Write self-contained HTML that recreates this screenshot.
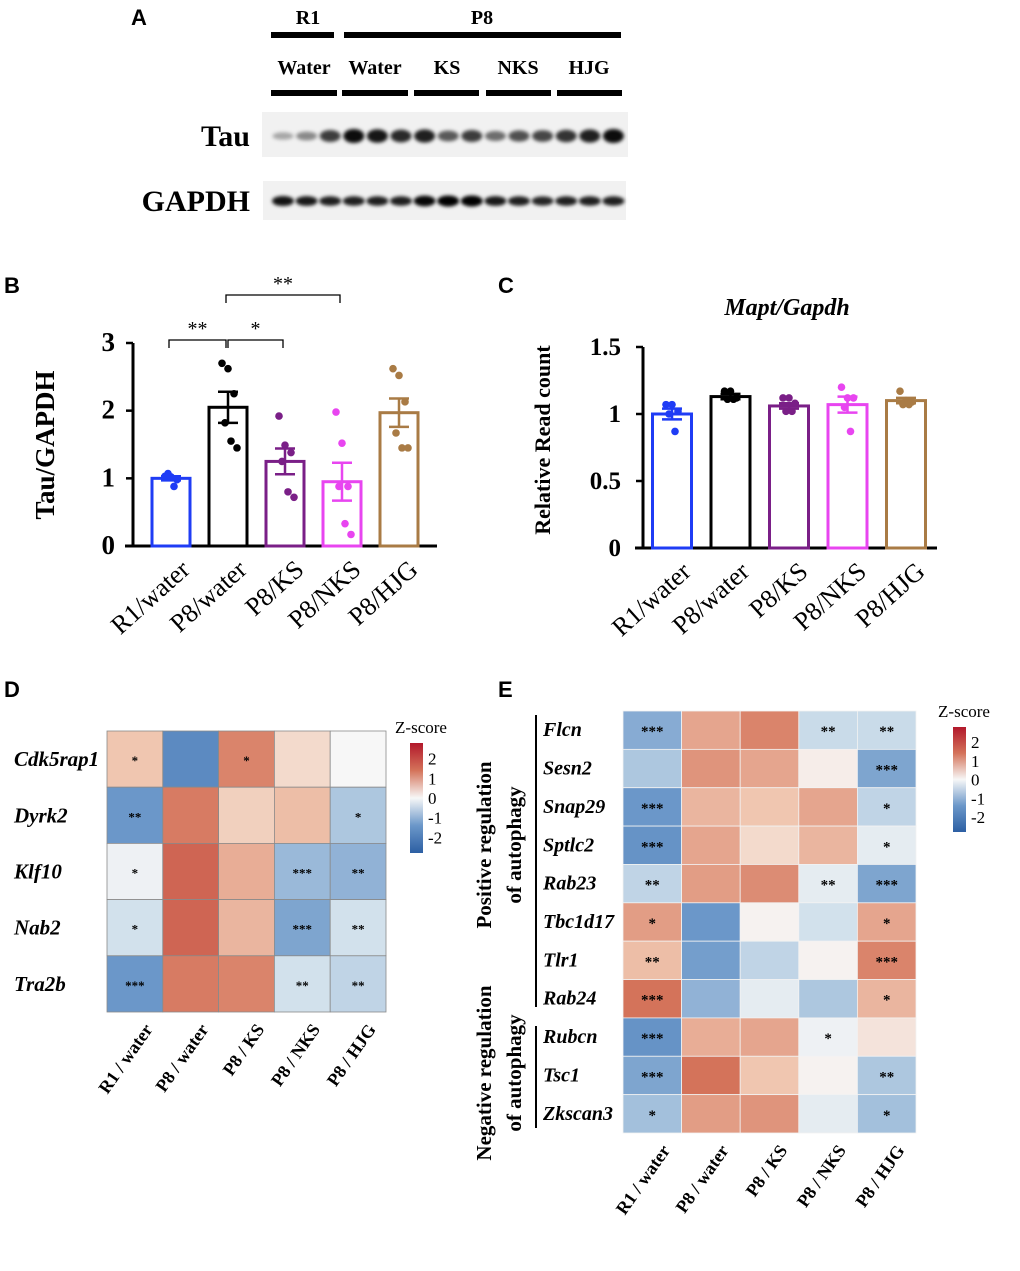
<!DOCTYPE html>
<html><head><meta charset="utf-8"><style>
body{margin:0;background:#fff;}
svg{display:block;font-family:"Liberation Serif",serif;}
.pl{font-family:"Liberation Sans",sans-serif;font-weight:bold;font-size:22px;}
</style></head><body>
<svg id="fig" width="1020" height="1271" viewBox="0 0 1020 1271" xmlns="http://www.w3.org/2000/svg">
<defs>
<filter id="blur" x="-20%" y="-50%" width="140%" height="200%"><feGaussianBlur stdDeviation="1.8"/></filter>
<linearGradient id="zgrad" x1="0" y1="0" x2="0" y2="1">
<stop offset="0" stop-color="#b2182b"/><stop offset="0.25" stop-color="#d4735a"/><stop offset="0.5" stop-color="#f7f7f7"/><stop offset="0.75" stop-color="#6b97c9"/><stop offset="1" stop-color="#2c5fa3"/>
</linearGradient>
</defs>
<g id="panelA">
<text class="pl" x="131" y="25">A</text>
<text x="308" y="24" text-anchor="middle" font-weight="bold" font-size="20">R1</text>
<text x="482" y="24" text-anchor="middle" font-weight="bold" font-size="20">P8</text>
<rect x="271" y="32" width="63" height="6" fill="#000"/>
<rect x="344" y="32" width="277" height="6" fill="#000"/>
<g font-weight="bold" font-size="20" text-anchor="middle">
<text x="304" y="74">Water</text>
<text x="375" y="74">Water</text>
<text x="447" y="74">KS</text>
<text x="518" y="74">NKS</text>
<text x="589" y="74">HJG</text>
</g>
<rect x="271" y="90" width="66" height="6" fill="#000"/>
<rect x="342" y="90" width="66" height="6" fill="#000"/>
<rect x="414" y="90" width="65" height="6" fill="#000"/>
<rect x="486" y="90" width="65" height="6" fill="#000"/>
<rect x="557" y="90" width="65" height="6" fill="#000"/>
<text x="250" y="146" text-anchor="end" font-weight="bold" font-size="30">Tau</text>
<text x="250" y="211" text-anchor="end" font-weight="bold" font-size="30">GAPDH</text>
<rect x="262" y="112" width="366" height="45" fill="#f1f1f1"/>
<rect x="263" y="181" width="363" height="39" fill="#f1f1f1"/>
<g id="bands"></g>
</g>
<g id="panelB">
<text class="pl" x="4" y="293">B</text>
</g>
<g id="panelC">
<text class="pl" x="498" y="293">C</text>
</g>
<g id="panelD">
<text class="pl" x="4" y="697">D</text>
</g>
<g id="panelE">
<text class="pl" x="498" y="697">E</text>
</g>
</svg>
<script>
const NS="http://www.w3.org/2000/svg";
function mk(parent,tag,attrs,txt){const e=document.createElementNS(NS,tag);for(const k in attrs)e.setAttribute(k,attrs[k]);if(txt!==undefined)e.textContent=txt;parent.appendChild(e);return e;}

// ---- Blot data ----
const tauIntensity=[0.2,0.35,0.75,1,0.95,0.85,0.9,0.6,0.75,0.5,0.65,0.7,0.8,0.9,1];
const gapdhIntensity=[0.85,0.8,0.75,0.75,0.75,0.75,0.95,1,1,0.8,0.75,0.7,0.75,0.75,0.75];
const bands=document.getElementById('bands');
tauIntensity.forEach((v,i)=>{const cx=283+i*23.6;
 const e=mk(bands,'ellipse',{cx:cx,cy:136,rx:10.5,ry:3+4*v,fill:'#000','fill-opacity':0.15+0.8*v,filter:'url(#blur)'});
 
 });
gapdhIntensity.forEach((v,i)=>{const cx=283+i*23.6;
 const e=mk(bands,'ellipse',{cx:cx,cy:201,rx:11,ry:2.5+3*v,fill:'#000','fill-opacity':0.5+0.5*v,filter:'url(#blur)'});
 
 });

// ---- Bar chart data ----
const groups=["R1/water","P8/water","P8/KS","P8/NKS","P8/HJG"];
const groupColors=["#1f3cf5","#000000","#7a1f87","#e845f0","#a97b45"];
const tauMeans=[1.0,2.05,1.25,0.95,1.97];
const tauSem=[0.03,0.23,0.19,0.28,0.21];
const tauPoints=[[1.03,1.02,0.98,1.07,0.88],[2.7,2.62,2.25,1.82,1.55,1.45],[1.92,1.49,1.38,1.25,0.8,0.72],[1.98,1.52,0.88,0.88,0.33,0.17],[2.62,2.52,2.13,1.67,1.45,1.45]];
const tauTicks=["0","1","2","3"];
const maptMeans=[1.0,1.13,1.06,1.07,1.1];
const maptSem=[0.04,0.02,0.02,0.06,0.02];
const maptPoints=[[1.07,1.07,1.02,1.0,0.87],[1.17,1.17,1.12,1.11,1.11],[1.12,1.12,1.08,1.02,1.02],[1.2,1.12,1.12,1.05,0.87],[1.17,1.1,1.09,1.07,1.07]];
const maptTicks=["0","0.5","1","1.5"];

function barChart(g,o){
 const y=v=>o.y0-(v/o.ymax)*(o.y0-o.ytop);
 const x=i=>o.x0+i*o.step;
 let e=mk(g,'line',{x1:o.ax,y1:o.ytop,x2:o.ax,y2:o.y0+1.5,stroke:'#000','stroke-width':3});
 
 e=mk(g,'line',{x1:o.ax-8,y1:o.y0,x2:o.xend,y2:o.y0,stroke:'#000','stroke-width':3});
 
 o.ticks.forEach(t=>{const v=parseFloat(t);const ty=y(v);
  const l=mk(g,'line',{x1:o.ax-7,y1:ty,x2:o.ax,y2:ty,stroke:'#000','stroke-width':2.5});
  
  const tx=mk(g,'text',{x:o.ax-o.tickGap,y:ty+8,'text-anchor':'end','font-weight':'bold','font-size':o.tickFs},t);
  });
 o.means.forEach((m,i)=>{const cx=x(i),c=groupColors[i],w=o.bw;
  const r=mk(g,'rect',{x:cx-w/2,y:y(m),width:w,height:o.y0-y(m),fill:'none',stroke:c,'stroke-width':3});
  
  o.points[i].forEach((p,j)=>{const off=((j%3)-1)*6+(j>=3?3:0);
   const d=mk(g,'circle',{cx:cx+off,cy:y(p),r:3.8,fill:c});
   });
  const s=o.sem[i];
  const eb=mk(g,'path',{d:`M${cx},${y(m+s)}V${y(m-s)}M${cx-10},${y(m+s)}H${cx+10}M${cx-10},${y(m-s)}H${cx+10}`,stroke:c,'stroke-width':2.5,fill:'none'});
  
  const lb=mk(g,'text',{x:cx+8,y:o.y0+12,'text-anchor':'end','font-size':o.labFs,transform:`rotate(-42 ${cx+8} ${o.y0+12})`,'dominant-baseline':'hanging'},groups[i]);
  });
 const yt=mk(g,'text',{x:o.ytx,y:o.yty,'text-anchor':'middle','font-weight':'bold','font-size':o.ytFs,transform:`rotate(-90 ${o.ytx} ${o.yty})`},o.ytitle);
 
 return {x,y};
}
const gB=document.getElementById('panelB');
const B=barChart(gB,{ax:133,ytop:343,y0:546,ymax:3,xend:437,x0:171,step:57,bw:38,ticks:tauTicks,means:tauMeans,sem:tauSem,points:tauPoints,tickGap:18,tickFs:27,labFs:26,ytx:54,yty:445,ytFs:27,ytitle:"Tau/GAPDH"});
[[0,1,340,"**"],[1,2,340,"*"],[1,3,295,"**"]].forEach(([a,b,yy,s],k)=>{
 const x1=B.x(a)-2+(k==1?2:0),x2=B.x(b)-2;
 const p=mk(gB,'path',{d:`M${x1},${yy+8}V${yy}H${x2}V${yy+8}`,stroke:'#000','stroke-width':1.3,fill:'none'});
 
 const t=mk(gB,'text',{x:(x1+x2)/2,y:yy-5,'text-anchor':'middle','font-size':20},s);
 });

const gC=document.getElementById('panelC');
barChart(gC,{ax:643,ytop:347,y0:548,ymax:1.5,xend:937,x0:672,step:58.5,bw:39,ticks:maptTicks,means:maptMeans,sem:maptSem,points:maptPoints,tickGap:22,tickFs:25,labFs:26,ytx:550,yty:440,ytFs:22,ytitle:"Relative Read count"});
const ct=mk(gC,'text',{x:787,y:315,'text-anchor':'middle','font-weight':'bold','font-style':'italic','font-size':24},"Mapt/Gapdh");


// ---- Heatmap data ----
const hmCols=["R1 / water","P8 / water","P8 / KS","P8 / NKS","P8 / HJG"];
const dGenes=["Cdk5rap1","Dyrk2","Klf10","Nab2","Tra2b"];
const dZ=[[0.5,-1.8,1.3,0.3,0.0],[-1.5,1.4,0.4,0.6,-0.8],[-0.1,1.7,0.8,-1.0,-1.1],[-0.4,1.7,0.7,-1.3,-0.4],[-1.5,1.4,1.3,-0.4,-0.6]];
const dSig=[["*","","*","",""],["**","","","","*"],["*","","","***","**"],["*","","","***","**"],["***","","","**","**"]];
const eGenes=["Flcn","Sesn2","Snap29","Sptlc2","Rab23","Tbc1d17","Tlr1","Rab24","Rubcn","Tsc1","Zkscan3"];
const eZ=[[-1.2,0.9,1.3,-0.5,-0.5],[-0.8,1.1,0.9,0.1,-1.3],[-1.5,0.7,0.5,0.9,-0.6],[-1.6,0.9,0.3,0.7,-0.2],[-0.6,1.0,1.2,-0.2,-1.3],[1.0,-1.5,0.05,-0.4,0.9],[0.6,-1.4,-0.6,0.05,1.3],[1.5,-1.1,-0.2,-0.8,0.7],[-1.6,0.8,0.9,-0.1,0.2],[-1.3,1.5,0.5,0.05,-0.8],[-0.9,1.0,1.1,-0.2,-0.9]];
const eSig=[["***","","","**","**"],["","","","","***"],["***","","","","*"],["***","","","","*"],["**","","","**","***"],["*","","","","*"],["**","","","","***"],["***","","","","*"],["***","","","*",""],["***","","","","**"],["*","","","","*"]];
const zTicks=["2","1","0","-1","-2"];

const stops=[[-2.8,[42,95,165]],[-1.5,[107,151,201]],[-0.5,[201,219,233]],[0,[247,247,247]],[0.5,[240,198,176]],[1.5,[212,115,90]],[2.8,[178,24,43]]];
function zc(z){z=Math.max(-2.8,Math.min(2.8,z));for(let i=0;i<stops.length-1;i++){const[a,ca]=stops[i],[b,cb]=stops[i+1];if(z<=b){const t=(z-a)/(b-a);return 'rgb('+ca.map((v,k)=>Math.round(v+(cb[k]-v)*t)).join(',')+')';}}}

function heatmap(g,o){
 const cw=(o.x1-o.x0)/hmCols.length,rh=(o.y1-o.y0)/o.genes.length;
 o.z.forEach((row,r)=>row.forEach((v,c)=>{
  const rc=mk(g,'rect',{x:o.x0+c*cw,y:o.y0+r*rh,width:cw,height:rh,fill:zc(v),stroke:o.grid,'stroke-width':0.8});
  
  if(o.sig[r][c]){const s=mk(g,'text',{x:o.x0+(c+0.5)*cw,y:o.y0+(r+0.5)*rh+6,'text-anchor':'middle','font-size':o.sfs,'font-weight':'bold'},o.sig[r][c]);
   }
 }));
 o.genes.forEach((gn,r)=>{const t=mk(g,'text',{x:o.lx,y:o.y0+(r+0.5)*rh+o.ldy,'font-style':'italic','font-weight':'bold','font-size':o.lfs},gn);
  });
 hmCols.forEach((cn,c)=>{const cx=o.x0+(c+0.5)*cw+8,cy=o.y1+10;
  const t=mk(g,'text',{x:cx,y:cy,'text-anchor':'end','font-weight':'bold','font-size':o.cfs,transform:`rotate(-55 ${cx} ${cy})`,'dominant-baseline':'hanging'},cn);
  });
 const zt=mk(g,'text',{x:o.lgx+11,y:o.lgy-10,'text-anchor':'middle','font-size':17},"Z-score");
 
 const cb=mk(g,'rect',{x:o.lgx,y:o.lgy,width:13,height:o.lgh,fill:'url(#zgrad)'});
 
 zTicks.forEach(t=>{const v=parseFloat(t);const ty=o.lgy+o.lgh/2-v*(o.lgh/5.6);
  const tl=mk(g,'text',{x:o.lgx+18,y:ty+6,'font-size':17},t);
  });
}
heatmap(document.getElementById('panelD'),{x0:107,x1:386,y0:731,y1:1012,genes:dGenes,z:dZ,sig:dSig,grid:'#8a8a8a',lx:14,ldy:7,lfs:21,cfs:18,sfs:13,lgx:410,lgy:743,lgh:110});
const gE=document.getElementById('panelE');
heatmap(gE,{x0:623,x1:916,y0:711,y1:1133,genes:eGenes,z:eZ,sig:eSig,grid:'#f2f2f2',lx:543,ldy:6,lfs:20,cfs:18,sfs:15,lgx:953,lgy:727,lgh:105});
[[715,1007,"pos-group-line"],[1026,1128,"neg-group-line"]].forEach(([a,b,n])=>{
 const l=mk(gE,'line',{x1:536,y1:a,x2:536,y2:b,stroke:'#000','stroke-width':2});
 });
[[491,845,"Positive regulation"],[521,845,"of autophagy"],[491,1073,"Negative regulation"],[521,1073,"of autophagy"]].forEach(([x,y,s])=>{
 const t=mk(gE,'text',{x:x,y:y,'text-anchor':'middle','font-weight':'bold','font-size':21,transform:`rotate(-90 ${x} ${y})`},s);
 });
</script>
</body></html>
